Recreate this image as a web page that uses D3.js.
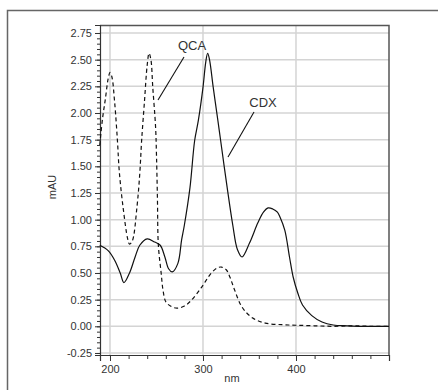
<!DOCTYPE html>
<html>
<head>
<meta charset="utf-8">
<script src="https://cdn.jsdelivr.net/npm/d3@7"></script>
<style>
	body { margin: 0; background: #fff; }
	svg { display: block; }
</style>
</head>
<body>
<div id="chart"></div>
<script>
// wavelengths (nm) and absorbance (mAU)
const qcaNm  = [189, 192, 195, 198, 200, 202, 205, 208, 210, 214, 219, 221, 224, 229, 232, 234, 237, 240, 242, 244, 246, 249, 250, 251, 252, 255, 257, 260, 265, 272, 280, 287, 298, 309, 316, 320, 325, 329, 334, 342, 353, 367, 385, 400, 420, 440, 460, 480, 500];
const qcaAbs = [1.70, 1.95, 2.13, 2.32, 2.38, 2.34, 2.10, 1.74, 1.45, 1.12, 0.82, 0.77, 0.80, 1.12, 1.43, 1.74, 2.10, 2.45, 2.56, 2.50, 2.24, 1.87, 1.60, 1.20, 0.76, 0.50, 0.34, 0.23, 0.19, 0.17, 0.19, 0.24, 0.36, 0.50, 0.55, 0.555, 0.53, 0.46, 0.34, 0.18, 0.08, 0.03, 0.015, 0.01, 0.005, 0.0, 0.005, 0.0, 0.0];

const cdxNm  = [189, 198, 205, 211, 215, 221, 227, 232, 240, 248, 254, 259, 263, 267, 273, 277, 280, 286, 291, 295, 300, 303, 305, 307, 311, 316, 319, 326, 332, 337, 342, 350, 359, 365, 370, 375, 380, 383, 388, 393, 397, 402, 407, 417, 428, 440, 455, 470, 485, 500];
const cdxAbs = [0.76, 0.71, 0.62, 0.50, 0.41, 0.50, 0.65, 0.76, 0.82, 0.79, 0.76, 0.65, 0.54, 0.51, 0.59, 0.81, 0.95, 1.30, 1.74, 1.93, 2.24, 2.48, 2.56, 2.50, 2.24, 1.93, 1.74, 1.30, 0.95, 0.72, 0.65, 0.78, 0.97, 1.07, 1.11, 1.10, 1.07, 1.02, 0.90, 0.65, 0.46, 0.31, 0.20, 0.10, 0.04, 0.012, 0.005, 0.0, 0.0, 0.0];

const yTicks = [-0.25, 0, 0.25, 0.5, 0.75, 1, 1.25, 1.5, 1.75, 2, 2.25, 2.5, 2.75];
const xTicks = [200, 300, 400];

const width = 438, height = 390;
const margin = {left: 100, top: 25, right: 49, bottom: 35};
const innerW = width - margin.left - margin.right,
	  innerH = height - margin.top - margin.bottom;

const svg = d3.select('#chart').append('svg')
	.attr('width', width)
	.attr('height', height);

// outer frame (top and left only)
svg.append('path')
	.attr('d', `M7.5,${height} V10.5 H${width}`)
	.attr('fill', 'none')
	.attr('stroke', '#666')
	.attr('stroke-width', 1.5);

const x = d3.scaleLinear().domain([189.25, 500]).range([0, innerW]);
const y = d3.scaleLinear().domain([-0.269, 2.825]).range([innerH, 0]);

const g = svg.append('g')
	.attr('transform', `translate(${margin.left},${margin.top})`);

// grid
g.selectAll('.hgrid').data(yTicks).enter()
	.append('line')
	.attr('x1', 0).attr('x2', innerW)
	.attr('y1', d => y(d)).attr('y2', d => y(d))
	.attr('stroke', '#d4d4d4').attr('stroke-width', 1.5);
g.selectAll('.vgrid').data(xTicks).enter()
	.append('line')
	.attr('y1', 0).attr('y2', innerH)
	.attr('x1', d => x(d)).attr('x2', d => x(d))
	.attr('stroke', '#d4d4d4').attr('stroke-width', 1.5);

// frame top + right
g.append('path')
	.attr('d', `M0,0.5 H${innerW} V${innerH}`)
	.attr('fill', 'none')
	.attr('stroke', '#555')
	.attr('stroke-width', 1.5);

// y axis, plain hyphen for negatives like the original
const fmtY = d => d3.format('.2f')(d).replace('\u2212', '-');
const yAxis = g.append('g')
	.call(d3.axisLeft(y).tickValues(yTicks).tickFormat(fmtY).tickSize(5).tickPadding(3));
yAxis.append('g')
	.call(d3.axisLeft(y).tickValues(d3.range(-0.25, 2.80, 0.05)).tickFormat('').tickSize(3))
	.select('.domain').remove();

// x axis
const xAxis = g.append('g')
	.attr('transform', `translate(0,${innerH})`)
	.call(d3.axisBottom(x).tickValues(xTicks).tickFormat(d3.format('d')).tickSize(6).tickPadding(4));
xAxis.append('g')
	.call(d3.axisBottom(x).tickValues(d3.range(200, 501, 20)).tickFormat('').tickSize(4))
	.select('.domain').remove();

[yAxis, xAxis].forEach(ax => {
	ax.selectAll('.domain').attr('stroke', '#333').attr('stroke-width', 1.2);
	ax.selectAll('line').attr('stroke', '#333');
	ax.selectAll('text')
		.attr('fill', '#333')
		.style('font-family', 'Arial, "Liberation Sans", sans-serif')
		.style('font-size', '11px');
});

// axis titles
svg.append('text')
	.attr('transform', 'translate(56,187) rotate(-90)')
	.attr('text-anchor', 'middle')
	.attr('fill', '#333')
	.style('font-family', 'Arial, "Liberation Sans", sans-serif')
	.style('font-size', '11px')
	.text('mAU');
svg.append('text')
	.attr('x', 232).attr('y', 382)
	.attr('text-anchor', 'middle')
	.attr('fill', '#333')
	.style('font-family', 'Arial, "Liberation Sans", sans-serif')
	.style('font-size', '11px')
	.text('nm');

// curves
const line = d3.line()
	.x(d => x(d[0]))
	.y(d => y(d[1]))
	.curve(d3.curveCatmullRom.alpha(0.5));

g.append('path')
	.datum(d3.zip(qcaNm, qcaAbs))
	.attr('d', line)
	.attr('fill', 'none')
	.attr('stroke', '#111')
	.attr('stroke-width', 1.2)
	.attr('stroke-dasharray', '4,3');

g.append('path')
	.datum(d3.zip(cdxNm, cdxAbs))
	.attr('d', line)
	.attr('fill', 'none')
	.attr('stroke', '#111')
	.attr('stroke-width', 1.2);

// annotations
const notes = [
	{label: 'QCA', tx: 192, ty: 50, x1: 184, y1: 57, x2: 158, y2: 100},
	{label: 'CDX', tx: 263, ty: 107, x1: 254, y1: 112, x2: 228, y2: 157}
];
notes.forEach(n => {
	svg.append('line')
		.attr('x1', n.x1).attr('y1', n.y1)
		.attr('x2', n.x2).attr('y2', n.y2)
		.attr('stroke', '#111').attr('stroke-width', 1.1);
	svg.append('text')
		.attr('x', n.tx).attr('y', n.ty)
		.attr('text-anchor', 'middle')
		.attr('fill', '#333')
		.style('font-family', 'Arial, "Liberation Sans", sans-serif')
		.style('font-size', '13px')
		.text(n.label);
});
</script>
</body>
</html>
